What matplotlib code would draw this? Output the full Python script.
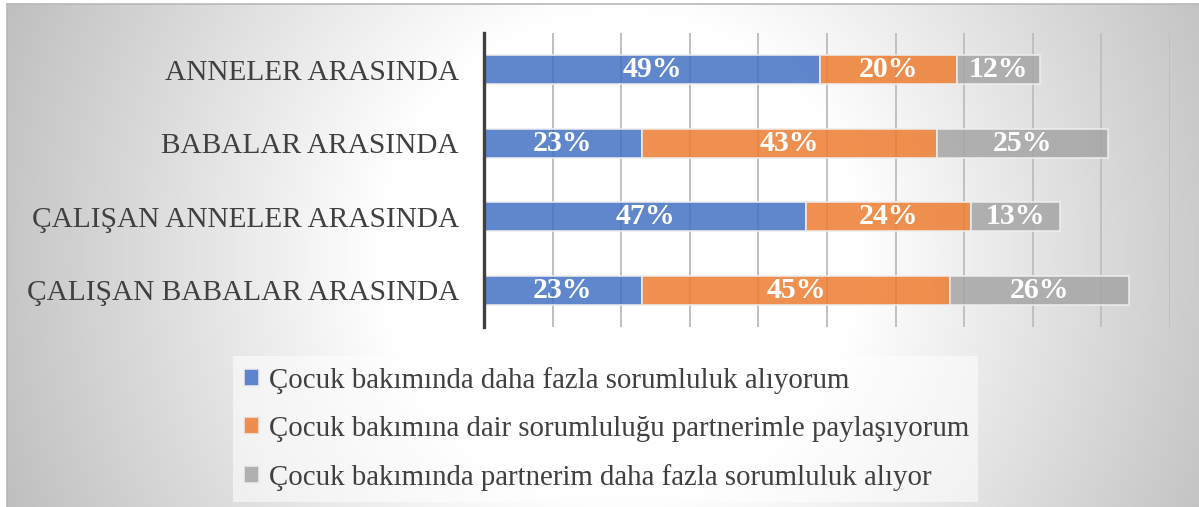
import numpy as np
import matplotlib; matplotlib.use("Agg")
import matplotlib.pyplot as plt
plt.rcParams.update({"font.family": ["Liberation Serif", "DejaVu Serif"]})

categories = ["ANNELER ARASINDA", "BABALAR ARASINDA",
              "ÇALIŞAN ANNELER ARASINDA", "ÇALIŞAN BABALAR ARASINDA"]
series_names = ["Çocuk bakımında daha fazla sorumluluk alıyorum",
                "Çocuk bakımına dair sorumluluğu partnerimle paylaşıyorum",
                "Çocuk bakımında partnerim daha fazla sorumluluk alıyor"]
more_me = [49, 23, 47, 23]
shared = [20, 43, 24, 45]
more_partner = [12, 25, 13, 26]
series_vals = [more_me, shared, more_partner]
COLS = ["#4472C4", "#ED7D31", "#A5A5A5"]

W, H = 1199, 507
fig = plt.figure(figsize=(W/100, H/100), dpi=100)

# radial grey background
bg = fig.add_axes([7/W, 0, 1-7/W, 1-4/H], zorder=-10)
yy, xx = np.mgrid[0:500, 0:1192]
d = np.hypot(xx+7-620, yy+4-253)
t = np.clip((d-240)/420, 0, 1)
g = 1.0 - t*(1-0.75)
bg.imshow(np.dstack([g, g, g]), aspect="auto", extent=[0, 1, 0, 1])
bg.set_xticks([]); bg.set_yticks([])
for s in ["right", "bottom"]:
    bg.spines[s].set_visible(False)
for s in ["top", "left"]:
    bg.spines[s].set_color("#b8b8b8"); bg.spines[s].set_linewidth(1.2)

ax = fig.add_axes([484/W, 1-327/H, (1170-484)/W, (327-33)/H])
ax.patch.set_alpha(0)
y = np.arange(len(categories))
left = np.zeros(len(categories))
for name, vals, col in zip(series_names, series_vals, COLS):
    bars = ax.barh(y, vals, left=left, height=0.4, color=col, alpha=0.85,
                   edgecolor="#eeeeee", linewidth=1.3, label=name, zorder=3)
    for b, v in zip(bars, vals):
        ax.text(b.get_x()+b.get_width()/2, b.get_y()+b.get_height()/2, f"{v}%",
                ha="center", va="center", color="white", fontsize=21.5,
                fontweight="bold", zorder=4)
    left += np.array(vals)

ax.set_xlim(0, 100)
ax.set_ylim(len(categories)-0.5, -0.5)
ax.set_xticks(np.arange(0, 101, 10))
ax.set_xticklabels([])
ax.set_yticks(y)
ax.set_yticklabels(categories, fontsize=21.2, color="#404040")
ax.tick_params(axis="both", length=0)
ax.tick_params(axis="y", pad=18)
ax.grid(axis="x", color="#c0c0c0", lw=1.4, zorder=0)
ax.set_axisbelow(True)
for s in ["top", "right", "bottom"]:
    ax.spines[s].set_visible(False)
ax.spines["left"].set_color("#404040"); ax.spines["left"].set_linewidth(2.4)
ax.spines["left"].set_zorder(5)

leg = ax.legend(loc="upper left", mode="expand",
                bbox_to_anchor=(233/W, 1-497/H, (978-233)/W, (497-356)/H),
                bbox_transform=fig.transFigure, fontsize=20.8, frameon=True,
                handlelength=0.52, handleheight=0.52, handletextpad=0.36,
                labelspacing=0.76, borderpad=0.38, borderaxespad=0)
leg.get_frame().set_facecolor("white"); leg.get_frame().set_alpha(0.55)
leg.get_frame().set_edgecolor("none"); leg.get_frame().set_boxstyle("square", pad=0)
for txt in leg.get_texts():
    txt.set_color("#404040")

fig.savefig("out.png", dpi=100)
